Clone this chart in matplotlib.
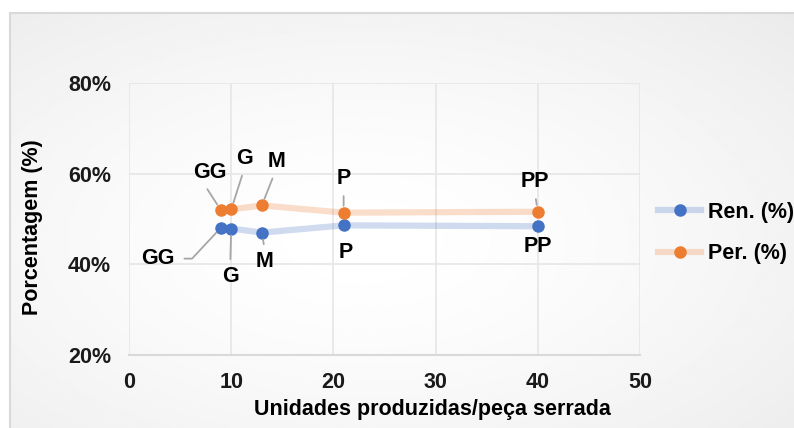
import numpy as np
import matplotlib
matplotlib.use("Agg")
import matplotlib.pyplot as plt
from matplotlib.colors import to_rgba
from matplotlib.patches import Rectangle

plt.rcParams['font.family'] = ['Liberation Sans', 'DejaVu Sans']

# data
unidades = [9, 10, 13, 21, 40]
classes = ['GG', 'G', 'M', 'P', 'PP']
rendimento = [48.1, 47.9, 47.0, 48.6, 48.4]
perda = [51.9, 52.1, 53.0, 51.4, 51.6]

x_ticks = [0, 10, 20, 30, 40, 50]
y_ticks = [20, 40, 60, 80]

BLUE = '#4472C4'
ORANGE = '#ED7D31'
GREY_LINE = '#a6a6a6'
FS = 15.5

fig = plt.figure(figsize=(7.94, 4.28), dpi=100)

# background panel with soft radial gradient
bg = fig.add_axes([0, 0, 1, 1], zorder=-10)
bg.set_axis_off()
x0 = 10 / 794
y1 = 1 - 13 / 428
yy, xx = np.mgrid[0:1:200j, 0:1:300j]
r = np.sqrt(((xx - 0.45) / 0.9) ** 2 + ((yy - 0.45) / 0.9) ** 2)
shade = 1.0 - 0.10 * np.clip(r, 0, 1) ** 1.5
bg.add_patch(Rectangle((0, 0), 1, 1, transform=bg.transAxes, color='white', zorder=-1))
bg.imshow(shade, cmap='gray', vmin=0, vmax=1, extent=[x0, 1, 0, y1],
          aspect='auto', origin='lower')
bg.set_xlim(0, 1)
bg.set_ylim(0, 1)
bg.add_patch(Rectangle((x0, -0.01), 1.1, y1 + 0.01, fill=False,
                       edgecolor='#d9d9d9', lw=1.5, zorder=5))

ax = fig.add_axes([129 / 794, 1 - 355 / 428, (640 - 129) / 794, (355 - 83) / 428])
ax.patch.set_alpha(0)

ax.plot(unidades, rendimento, color=to_rgba(BLUE, 0.25), lw=4.5,
        marker='o', ms=8, mfc=BLUE, mec=BLUE, label='Ren. (%)', zorder=3)
ax.plot(unidades, perda, color=to_rgba(ORANGE, 0.25), lw=4.5,
        marker='o', ms=8, mfc=ORANGE, mec=ORANGE, label='Per. (%)', zorder=3)

ax.set_xlim(0, 50)
ax.set_ylim(20, 80)
ax.set_xticks(x_ticks)
ax.set_yticks(y_ticks)
ax.set_yticklabels([f'{v}%' for v in y_ticks])
ax.grid(True, color='#e6e6e6', lw=1.2)
ax.set_axisbelow(True)
for s in ['top', 'right', 'left']:
    ax.spines[s].set_visible(False)
ax.spines['bottom'].set_color('#d9d9d9')
ax.spines['bottom'].set_linewidth(1.5)
ax.tick_params(length=0, labelsize=FS, pad=12)
ax.tick_params(axis='y', pad=13)
for lab in ax.get_xticklabels() + ax.get_yticklabels():
    lab.set_fontweight('bold')
    lab.set_color('#1a1a1a')

ax.set_xlabel('Unidades produzidas/peça serrada', fontsize=FS, fontweight='bold')
ax.set_ylabel('Porcentagem (%)', fontsize=FS, fontweight='bold')
ax.xaxis.set_label_coords(0.593, -0.163)
ax.yaxis.set_label_coords(-0.168, 0.47)

# point labels (offsets in pixels)
per_offsets = [(-11, 38), (13, 51), (15, 44), (0, 34), (-3, 30)]
ren_offsets = [(-63, -31), (-1, -48), (3, -29), (2, -27), (0, -20)]
per_relpos = [(0.3, 0), (0.5, 0), (0.4, 0), (0.5, 0), (0.5, 0)]
ren_leader = [True, True, True, False, False]

for i, c in enumerate(classes):
    arrow = dict(arrowstyle='-', color=GREY_LINE, lw=1.3, shrinkA=3, shrinkB=5,
                 relpos=per_relpos[i])
    ax.annotate(c, (unidades[i], perda[i]), xytext=per_offsets[i],
                textcoords='offset pixels', ha='center', va='center',
                fontsize=FS, fontweight='bold', arrowprops=arrow, zorder=4)
for i, c in enumerate(classes):
    arrow = None
    if ren_leader[i]:
        arrow = dict(arrowstyle='-', color=GREY_LINE, lw=1.3, shrinkA=3, shrinkB=5,
                     relpos=(0.5, 1))
        if c == 'GG':
            arrow['connectionstyle'] = 'angle,angleA=0,angleB=47,rad=0'
            arrow['relpos'] = (1, 0.5)
            arrow['shrinkA'] = 5
    ax.annotate(c, (unidades[i], rendimento[i]), xytext=ren_offsets[i],
                textcoords='offset pixels', ha='center', va='center',
                fontsize=FS, fontweight='bold', arrowprops=arrow, zorder=4)

leg = fig.legend(loc='center left', bbox_to_anchor=(658 / 794, 1 - 233 / 428),
                 frameon=False, prop={'size': FS, 'weight': 'bold'}, borderpad=0,
                 borderaxespad=0, handlelength=2.0, handletextpad=0.3, labelspacing=0.95)

fig.savefig('out.png', dpi=100)
